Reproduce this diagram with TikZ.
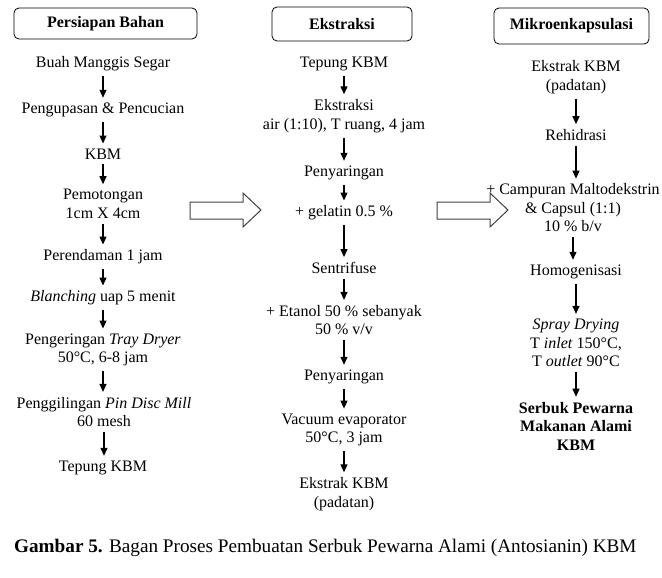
\documentclass[tikz,border=0pt]{standalone}
\usepackage{fontspec}
\setmainfont{Liberation Serif}
\usetikzlibrary{arrows.meta}

\begin{document}
\begin{tikzpicture}[x=1pt,y=-1pt,
    every node/.style={font=\fontsize{16}{18.5}\selectfont,align=center,inner xsep=2pt,inner ysep=5pt},
    stage/.style={draw,rounded corners=5pt,font=\fontsize{16}{18.5}\selectfont\bfseries,line width=0.8pt,inner ysep=2pt},
    flow/.style={-{Triangle[length=8pt,width=7pt]},line width=1.2pt},
    hollow/.style={draw=black!75,line width=1pt}]
        \useasboundingbox (0,0) rectangle (662,578);
        \node[stage,minimum width=183pt,minimum height=31pt] (h1) at (105.5,23.5) {Persiapan Bahan};
        \node[stage,minimum width=140pt,minimum height=34pt] (h2) at (342,24) {Ekstraksi};
        \node[stage,minimum width=155pt,minimum height=36pt] (h3) at (571.5,26) {Mikroenkapsulasi};
        \node (b1) at (103,64) {Buah Manggis Segar};
        \node (b2) at (103,110) {Pengupasan \& Pencucian};
        \node (b3) at (103,154) {KBM};
        \node (b4) at (103,204) {Pemotongan\\1cm X 4cm};
        \node (b5) at (103,257) {Perendaman 1 jam};
        \node (b6) at (103,298) {\textit{Blanching} uap 5 menit};
        \node (b7) at (103,350) {Pengeringan \textit{Tray Dryer}\\50°C, 6-8 jam};
        \node (b8) at (104,412) {Penggilingan \textit{Pin Disc Mill}\\60 mesh};
        \node (b9) at (103,468) {Tepung KBM};
        \node (c1) at (344,64) {Tepung KBM};
        \node (c2) at (344,116) {Ekstraksi\\air (1:10), T ruang, 4 jam};
        \node (c3) at (344,173) {Penyaringan};
        \node (c4) at (344,213) {+ gelatin 0.5 \%};
        \node (c5) at (344,268) {Sentrifuse};
        \node (c6) at (344,320) {+ Etanol 50 \% sebanyak\\50 \% v/v};
        \node (c7) at (344,377) {Penyaringan};
        \node (c8) at (344,430) {Vacuum evaporator\\50°C, 3 jam};
        \node (c9) at (344,494) {Ekstrak KBM\\(padatan)};
        \node (d1) at (576,77) {Ekstrak KBM\\(padatan)};
        \node (d2) at (576,135) {Rehidrasi};
        \node (d3) at (573,208) {+ Campuran Maltodekstrin\\\& Capsul (1:1)\\10 \% b/v};
        \node (d4) at (576,272) {Homogenisasi};
        \node (d5) at (576,343) {\textit{Spray Drying}\\T \textit{inlet} 150°C,\\T \textit{outlet} 90°C};
        \node[font=\fontsize{16}{18.5}\selectfont\bfseries] (d6) at (576,426) {Serbuk Pewarna\\Makanan Alami\\KBM};
        \foreach \a/\b in {b1/b2,b2/b3,b3/b4,b4/b5,b5/b6,b6/b7,b7/b8,b8/b9,
            c1/c2,c2/c3,c3/c4,c4/c5,c5/c6,c6/c7,c7/c8,c8/c9,
            d1/d2,d2/d3,d3/d4,d4/d5,d5/d6}
            \draw[flow] (\a.south) -- (\a.south |- \b.north);
        \foreach \x in {190,437}
            \draw[hollow] (\x,202) -- (\x+53,202) -- (\x+53,193) -- (\x+71,210) -- (\x+53,227) -- (\x+53,219) -- (\x,219) -- cycle;
        \node[anchor=west,font=\fontsize{19.2}{22}\selectfont] (cap) at (12,548) {\textbf{Gambar 5.} Bagan Proses Pembuatan Serbuk Pewarna Alami (Antosianin) KBM};
\end{tikzpicture}
\end{document}
